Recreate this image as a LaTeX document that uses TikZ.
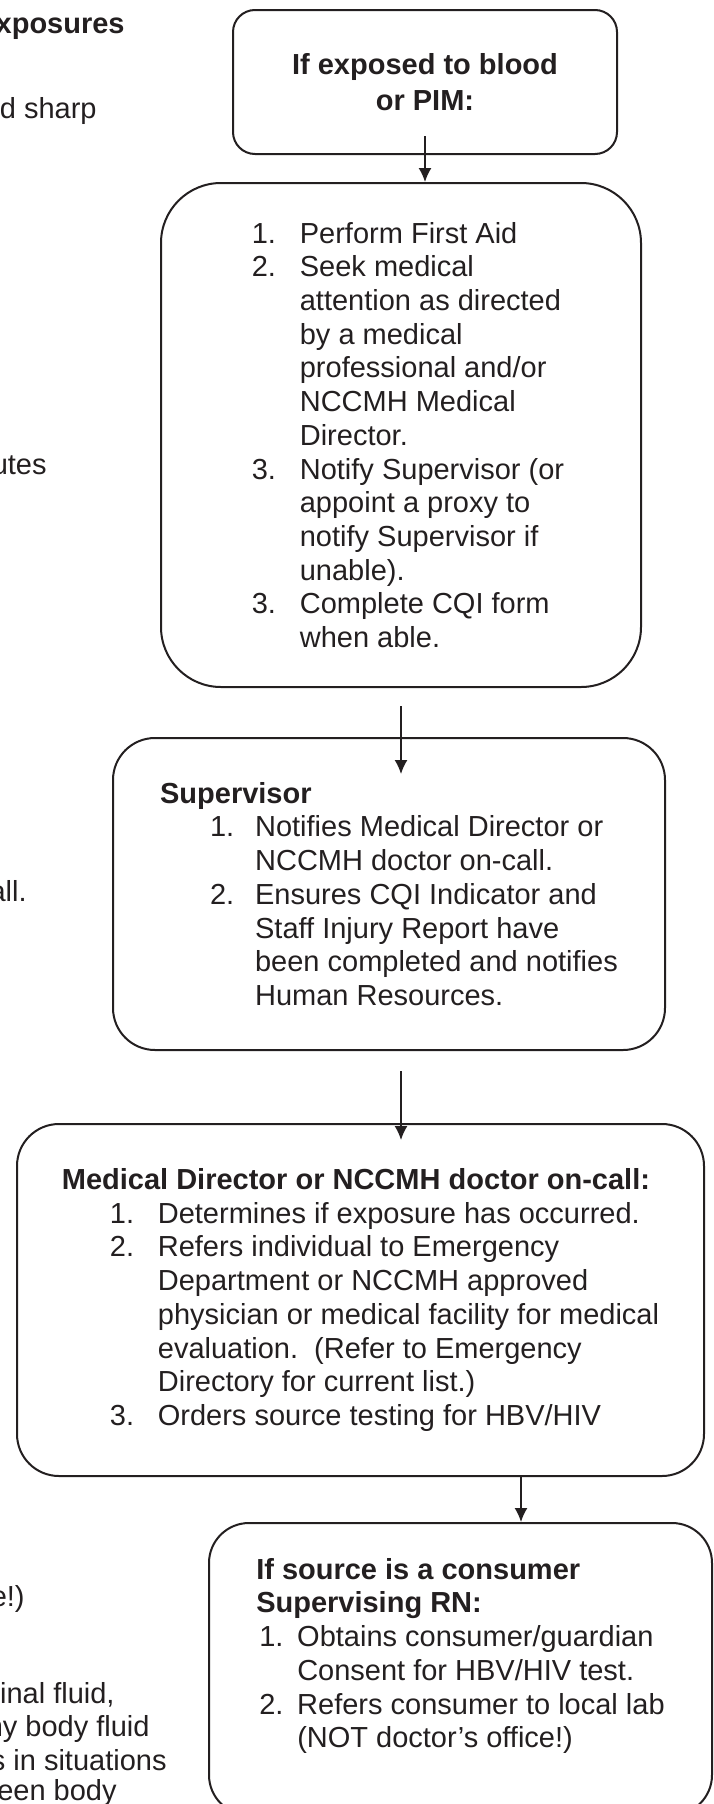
\documentclass[tikz,border=0pt]{standalone}
\usepackage{fontspec}
\setmainfont{Liberation Sans}
\usetikzlibrary{shapes,arrows.meta}
\definecolor{ink}{RGB}{35,31,32}
\tikzstyle{stepbox} = [draw=ink, rectangle, line width=1pt, inner sep=0pt, align=left, text=ink]
\tikzstyle{line} = [draw=ink, line width=0.8pt, -{Latex[length=7pt,width=6.5pt]}]
\tikzstyle{side-text} = [anchor=base east, inner sep=0pt, text=ink]
\newcommand{\itmnum}[2][24pt]{\makebox[#1][l]{#2}}
\newcommand{\itmgap}[1][24pt]{\hspace*{#1}}

\begin{document}
\begin{tikzpicture}[node distance=2cm, font=\fontsize{14.5}{16.85}\selectfont]
    \path [use as bounding box, clip] (0,0) rectangle (356.5pt,-902pt);

    \node [stepbox, rounded corners=11pt, minimum width=192pt, minimum height=72pt, align=center, font=\fontsize{14.5}{18}\selectfont\bfseries] (exposed) at (212.5pt,-41pt) {If exposed to blood\\or PIM:};
    \node [stepbox, rounded corners=30pt, minimum width=240pt, minimum height=252pt, node distance=176.5pt, below of=exposed, xshift=-12pt] (first-aid)
        {\itmgap[7pt]\itmnum{1.}Perform First Aid\\
         \itmgap[7pt]\itmnum{2.}Seek medical\\
         \itmgap[31pt]attention as directed\\
         \itmgap[31pt]by a medical\\
         \itmgap[31pt]professional and/or\\
         \itmgap[31pt]NCCMH Medical\\
         \itmgap[31pt]Director.\\
         \itmgap[7pt]\itmnum{3.}Notify Supervisor (or\\
         \itmgap[31pt]appoint a proxy to\\
         \itmgap[31pt]notify Supervisor if\\
         \itmgap[31pt]unable).\\
         \itmgap[7pt]\itmnum{3.}Complete CQI form\\
         \itmgap[31pt]when able.};
    \node [stepbox, rounded corners=21pt, minimum width=276pt, minimum height=156pt, node distance=229.5pt, below of=first-aid, xshift=-6pt] (supervisor)
        {\textbf{Supervisor}\\
         \hspace*{25pt}\itmnum[22.5pt]{1.}Notifies Medical Director or\\
         \itmgap[47.5pt]NCCMH doctor on-call.\\
         \hspace*{25pt}\itmnum[22.5pt]{2.}Ensures CQI Indicator and\\
         \itmgap[47.5pt]Staff Injury Report have\\
         \itmgap[47.5pt]been completed and notifies\\
         \itmgap[47.5pt]Human Resources.};
    \node [stepbox, rounded corners=21pt, minimum width=343.5pt, minimum height=176pt, node distance=203pt, below of=supervisor, xshift=-14.25pt] (doctor-on-call)
        {\textbf{Medical Director or NCCMH doctor on-call:}\\
         \hspace*{24pt}\itmnum{1.}Determines if exposure has occurred.\\
         \hspace*{24pt}\itmnum{2.}Refers individual to Emergency\\
         \itmgap[48pt]Department or NCCMH approved\\
         \itmgap[48pt]physician or medical facility for medical\\
         \itmgap[48pt]evaluation.\ \ (Refer to Emergency\\
         \itmgap[48pt]Directory for current list.)\\
         \hspace*{24pt}\itmnum{3.}Orders source testing for HBV/HIV};
    \node [stepbox, rounded corners=20pt, minimum width=251.5pt, minimum height=146pt, text depth=16pt, node distance=184.5pt, below of=doctor-on-call, xshift=50pt] (source-consumer)
        {\textbf{If source is a consumer}\\
         \textbf{Supervising RN:}\\
         \hspace*{1.5pt}\itmnum[19pt]{1.}Obtains consumer/guardian\\
         \itmgap[20.5pt]Consent for HBV/HIV test.\\
         \hspace*{1.5pt}\itmnum[19pt]{2.}Refers consumer to local lab\\
         \itmgap[20.5pt](NOT doctor’s office!)};

    \node [side-text] (side-exposures) at (62.5pt,-16.5pt) {\textbf{xposures}};
    \node [side-text] (side-sharp) at (48.5pt,-59pt) {d sharp};
    \node [side-text] (side-minutes) at (23.5pt,-237pt) {utes};
    \node [side-text] (side-call) at (13.5pt,-450.5pt) {all.};
    \node [side-text] (side-office) at (12.5pt,-803pt) {e!)};
    \node [side-text] (side-fluid) at (57.5pt,-851.5pt) {inal fluid,};
    \node [side-text] (side-body) at (75pt,-868.25pt) {ny body fluid};
    \node [side-text] (side-situations) at (83.5pt,-885pt) {s in situations};
    \node [side-text] (side-between) at (58.5pt,-900pt) {een body};

    \coordinate (consumer-in) at ([xshift=30.25pt]source-consumer.north);

    \path [line, shorten <=-9.5pt](exposed.south) -- (exposed.south |- first-aid.north);
    \path [line, shorten <=9pt, shorten >=-18.5pt](first-aid.south) -- (first-aid.south |- supervisor.north);
    \path [line, shorten <=10pt, shorten >=-8.5pt](first-aid.south |- supervisor.south) -- (first-aid.south |- doctor-on-call.north);
    \path [line](consumer-in |- doctor-on-call.south) -- (consumer-in);
\end{tikzpicture}
\end{document}
